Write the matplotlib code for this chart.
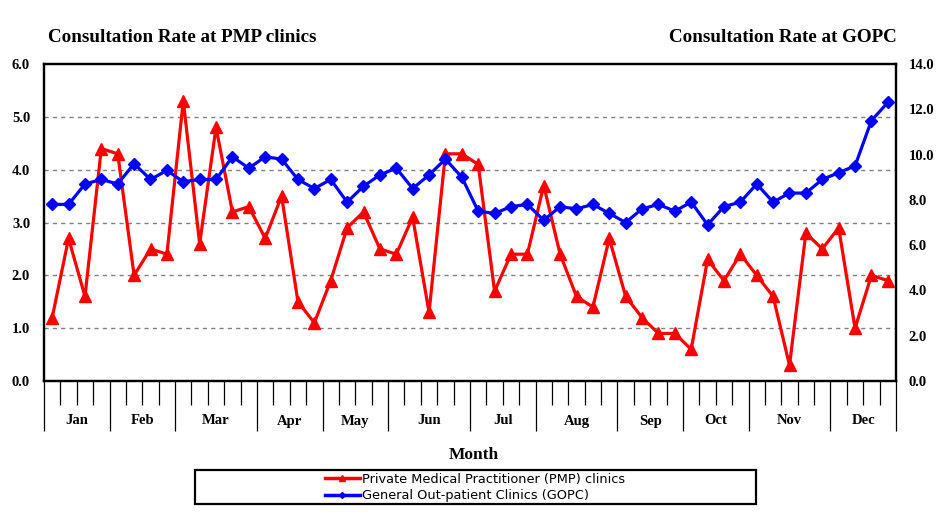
import matplotlib
matplotlib.use("Agg")
import matplotlib.pyplot as plt
from matplotlib.lines import Line2D
from matplotlib.patches import Rectangle
import numpy as np

months = ["Jan", "Feb", "Mar", "Apr", "May", "Jun", "Jul", "Aug", "Sep", "Oct", "Nov", "Dec"]
weeks_per_month = [4, 4, 5, 4, 4, 5, 4, 5, 4, 4, 5, 4]

pmp = [1.2, 2.7, 1.6, 4.4, 4.3, 2.0, 2.5, 2.4, 5.3, 2.6, 4.8, 3.2, 3.3, 2.7, 3.5, 1.5, 1.1,
       1.9, 2.9, 3.2, 2.5, 2.4, 3.1, 1.3, 4.3, 4.3, 4.1, 1.7, 2.4, 2.4, 3.7, 2.4, 1.6, 1.4, 2.7,
       1.6, 1.2, 0.9, 0.9, 0.6, 2.3, 1.9, 2.4, 2.0, 1.6, 0.3, 2.8, 2.5, 2.9, 1.0, 2.0, 1.9]
gopc = [7.8, 7.8, 8.7, 8.9, 8.7, 9.6, 8.9, 9.3, 8.8, 8.9, 8.9, 9.9, 9.4, 9.9, 9.8, 8.9, 8.5,
        8.9, 7.9, 8.6, 9.1, 9.4, 8.5, 9.1, 9.8, 9.0, 7.5, 7.4, 7.7, 7.8, 7.1, 7.7, 7.6, 7.8, 7.4,
        7.0, 7.6, 7.8, 7.5, 7.9, 6.9, 7.7, 7.9, 8.7, 7.9, 8.3, 8.3, 8.9, 9.2, 9.5, 11.5, 12.3]

left_ticks = [0.0, 1.0, 2.0, 3.0, 4.0, 5.0, 6.0]
right_ticks = [0.0, 2.0, 4.0, 6.0, 8.0, 10.0, 12.0, 14.0]

serif = "Liberation Serif"
W, H = 948, 514
fig = plt.figure(figsize=(W / 100, H / 100), dpi=100)
ax = fig.add_axes([44 / W, (H - 381) / H, (896 - 44) / W, (381 - 64) / H])
ax2 = ax.twinx()

n = len(pmp)
x = np.arange(n) + 0.5

ax.plot(x, pmp, color="#FF0000", lw=2.3, marker="^", ms=8, zorder=3,
        label="Private Medical Practitioner (PMP) clinics")
ax2.plot(x, gopc, color="#0000FF", lw=2.3, marker="D", ms=6.2, zorder=3,
         label="General Out-patient Clinics (GOPC)")

ax.set_xlim(0, n)
ax.set_ylim(0, 6)
ax2.set_ylim(0, 14)

ax.set_yticks(left_ticks)
ax.set_yticklabels([f"{v:.1f}" for v in left_ticks], fontfamily=serif, fontweight="bold", fontsize=10.5)
ax2.set_yticks(right_ticks)
ax2.set_yticklabels([f"{v:.1f}" for v in right_ticks], fontfamily=serif, fontweight="bold", fontsize=10.5)
ax.tick_params(axis="y", length=0, pad=10)
ax2.tick_params(axis="y", length=0, pad=9)

for v in left_ticks[1:-1]:
    ax.axhline(v, color="#808080", lw=1.0, ls=(0, (3, 3)), zorder=1)

bounds = np.concatenate([[0], np.cumsum(weeks_per_month)])
ax.set_xticks(bounds)
ax.set_xticks(np.arange(n + 1), minor=True)
ax.tick_params(axis="x", which="major", length=36, width=0.9, direction="out", labelbottom=False)
ax.tick_params(axis="x", which="minor", length=17.5, width=0.9, direction="out", labelbottom=False)
ax2.tick_params(axis="x", which="both", length=0)

centers = (bounds[:-1] + bounds[1:]) / 2
for c, m in zip(centers, months):
    ax.text(c, -(421 - 381) / 317, m, transform=ax.get_xaxis_transform(),
            ha="center", va="center", fontfamily=serif, fontweight="bold", fontsize=10.5)

for a in (ax, ax2):
    for s in a.spines.values():
        s.set_linewidth(1.6)

fig.text(48 / W, 1 - 37 / H, "Consultation Rate at PMP clinics", ha="left", va="center",
         fontfamily=serif, fontweight="bold", fontsize=13.7)
fig.text(897 / W, 1 - 37 / H, "Consultation Rate at GOPC", ha="right", va="center",
         fontfamily=serif, fontweight="bold", fontsize=13.7)
fig.text(474 / W, 1 - 455 / H, "Month", ha="center", va="center",
         fontfamily=serif, fontweight="bold", fontsize=12.5)

fig.patches.append(Rectangle((195 / W, 1 - 504 / H), (756 - 195) / W, (504 - 470) / H,
                             transform=fig.transFigure, fill=False, edgecolor="black", lw=1.6))
h1, l1 = ax.get_legend_handles_labels()
h2, l2 = ax2.get_legend_handles_labels()
handles = [Line2D([], [], color="#FF0000", lw=2.5, marker="^", ms=4),
           Line2D([], [], color="#0000FF", lw=2.5, marker="D", ms=3)]
fig.legend(handles, l1 + l2, loc="center left", bbox_to_anchor=(325 / W, 1 - 487.5 / H),
           frameon=False, prop={"family": "DejaVu Sans", "size": 9.3}, handlelength=2.7,
           handletextpad=0.2, labelspacing=0.25, borderpad=0, borderaxespad=0)

fig.savefig("out.png", dpi=100)
